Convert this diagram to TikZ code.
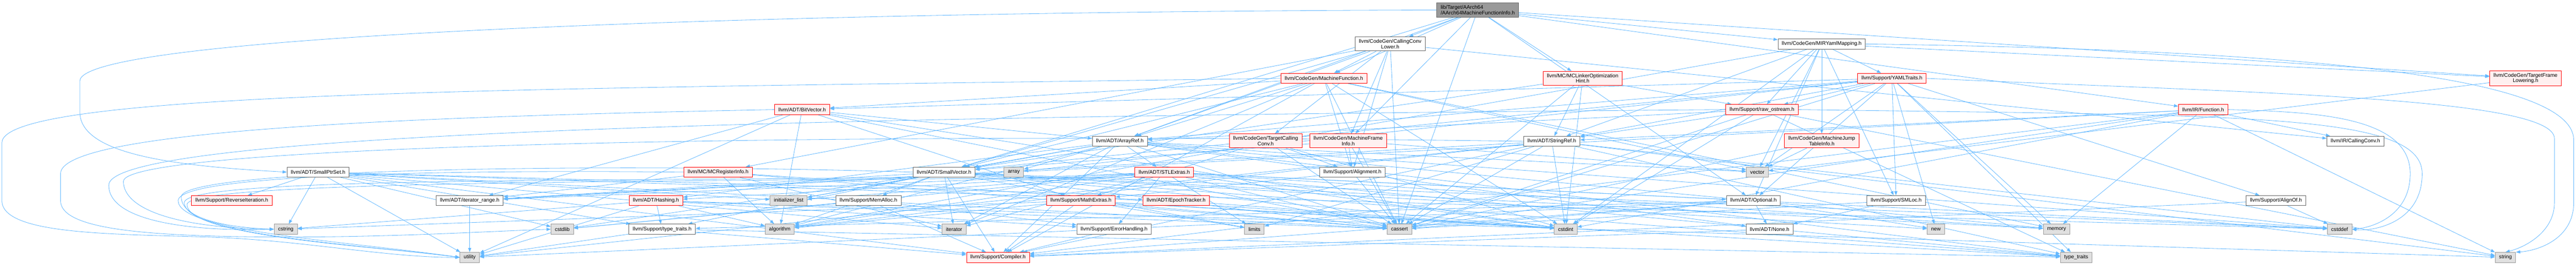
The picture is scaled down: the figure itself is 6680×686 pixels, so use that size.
\documentclass[tikz,border=0pt]{standalone}
\usepackage{fontspec}
\setmainfont{Liberation Sans}
\usetikzlibrary{arrows.meta}
\definecolor{edgec}{HTML}{63B8FF}
\definecolor{redfill}{HTML}{FFF0F0}
\definecolor{extfill}{HTML}{E0E0E0}
\definecolor{gforty}{HTML}{666666}
\definecolor{gsixty}{HTML}{999999}
\pgfdeclarelayer{bg}
\pgfsetlayers{bg,main}
\begin{document}
\begin{tikzpicture}[x=1pt,y=-1pt,
  box/.style={draw,rectangle,font=\fontsize{13.5}{14.5}\selectfont,inner xsep=10pt,inner ysep=6pt,minimum height=26pt,line width=1.3pt,align=center},
  rednode/.style={box,draw=red,fill=redfill},
  plainnode/.style={box,draw=gforty,fill=white},
  extnode/.style={box,draw=gsixty,fill=extfill},
  rootnode/.style={box,draw=gforty,fill=gsixty,align=left},
  conn/.style={draw=edgec,line width=1.1pt,-{Triangle[length=11pt,width=8pt]}}
]
\useasboundingbox (0,0) rectangle (6680,686);
\node[rootnode] (root) at (3832,26) {lib/Target/AArch64\\/AArch64MachineFunctionInfo.h};
\node[plainnode] (ccl) at (3605,114) {llvm/CodeGen/CallingConv\\Lower.h};
\node[plainnode] (mir) at (4724,114) {llvm/CodeGen/MIRYamlMapping.h};
\node[rednode] (mf) at (3433,203) {llvm/CodeGen/MachineFunction.h};
\node[rednode] (mclo) at (4104,203) {llvm/MC/MCLinkerOptimization\\Hint.h};
\node[rednode] (yaml) at (4906,203) {llvm/Support/YAMLTraits.h};
\node[rednode] (tfl) at (6549,203) {llvm/CodeGen/TargetFrame\\Lowering.h};
\node[rednode] (bv) at (2080,284) {llvm/ADT/BitVector.h};
\node[rednode] (ros) at (4569,284) {llvm/Support/raw\_ostream.h};
\node[rednode] (fn) at (5713,284) {llvm/IR/Function.h};
\node[plainnode] (ar) at (2904,366) {llvm/ADT/ArrayRef.h};
\node[rednode] (tcc) at (3282,365) {llvm/CodeGen/TargetCalling\\Conv.h};
\node[rednode] (mfi) at (3496,365) {llvm/CodeGen/MachineFrame\\Info.h};
\node[plainnode] (sr) at (4024,366) {llvm/ADT/StringRef.h};
\node[rednode] (mjt) at (4724,365) {llvm/CodeGen/MachineJump\\TableInfo.h};
\node[plainnode] (cc) at (6108,366) {llvm/IR/CallingConv.h};
\node[plainnode] (sps) at (825,446) {llvm/ADT/SmallPtrSet.h};
\node[rednode] (mcri) at (1862,446) {llvm/MC/MCRegisterInfo.h};
\node[plainnode] (sv) at (2448,446) {llvm/ADT/SmallVector.h};
\node[extnode] (array) at (2629,446) {array};
\node[rednode] (stl) at (3019,446) {llvm/ADT/STLExtras.h};
\node[plainnode] (al) at (3507,446) {llvm/Support/Alignment.h};
\node[extnode] (vector) at (4557,446) {vector};
\node[rednode] (rev) at (601,520) {llvm/Support/ReverseIteration.h};
\node[plainnode] (itr) at (1218,520) {llvm/ADT/iterator\_range.h};
\node[rednode] (hash) at (1701,520) {llvm/ADT/Hashing.h};
\node[extnode] (il) at (2045,520) {initializer\_list};
\node[plainnode] (ma) at (2252,520) {llvm/Support/MemAlloc.h};
\node[rednode] (mx) at (2803,520) {llvm/Support/MathExtras.h};
\node[rednode] (et) at (3050,520) {llvm/ADT/EpochTracker.h};
\node[plainnode] (opt) at (4547,520) {llvm/ADT/Optional.h};
\node[plainnode] (sml) at (4917,520) {llvm/Support/SMLoc.h};
\node[plainnode] (ao) at (5902,520) {llvm/Support/AlignOf.h};
\node[extnode] (cstring) at (741,594) {cstring};
\node[extnode] (cstdlib) at (1458,594) {cstdlib};
\node[plainnode] (tt) at (1717,594) {llvm/Support/type\_traits.h};
\node[extnode] (algorithm) at (2022,594) {algorithm};
\node[extnode] (iterator) at (2474,594) {iterator};
\node[plainnode] (eh) at (2889,594) {llvm/Support/ErrorHandling.h};
\node[extnode] (limits) at (3253,594) {limits};
\node[extnode] (cassert) at (3629,594) {cassert};
\node[extnode] (cstdint) at (4060,594) {cstdint};
\node[plainnode] (none) at (4589,594) {llvm/ADT/None.h};
\node[extnode] (new) at (5020,594) {new};
\node[extnode] (memory) at (5333,594) {memory};
\node[extnode] (cstddef) at (6067,594) {cstddef};
\node[extnode] (utility) at (1218,667) {utility};
\node[rednode] (comp) at (2588,667) {llvm/Support/Compiler.h};
\node[extnode] (typetraits) at (5384,667) {type\_traits};
\node[extnode] (string) at (6497,667) {string};
\begin{pgfonlayer}{bg}
\foreach \s/\t in {root/ar, root/opt, root/sv, root/ccl, root/mir, root/mfi, root/mf, root/fn, root/mclo, root/tfl, root/cassert,
  ccl/ar, ccl/sv, ccl/mfi, ccl/mf, ccl/tcc, ccl/cc, ccl/mcri, ccl/al, ccl/cassert,
  mir/sr, mir/mjt, mir/tfl, mir/sml, mir/yaml, mir/ros, mir/algorithm, mir/cstdint, mir/opt, mir/vector,
  mf/ar, mf/bv, mf/sv, mf/iterator, mf/comp, mf/cassert, mf/cstdint, mf/memory, mf/vector, mf/al,
  mclo/sv, mclo/sr, mclo/ros, mclo/cassert, mclo/cstdint,
  yaml/ar, yaml/bv, yaml/opt, yaml/sv, yaml/sr, yaml/ao, yaml/sml, yaml/ros, yaml/array, yaml/cassert, yaml/memory, yaml/new, yaml/vector, yaml/typetraits,
  tfl/vector,
  bv/ar, bv/itr, bv/mx, bv/algorithm, bv/cassert, bv/cstdint, bv/utility,
  ros/ar, ros/sr, ros/cassert, ros/cstdint, ros/string, ros/typetraits,
  fn/sr, fn/itr, fn/cc, fn/comp, fn/cassert, fn/cstdint, fn/memory, fn/string,
  ar/hash, ar/none, ar/sv, ar/stl, ar/comp, ar/algorithm, ar/array, ar/cassert, ar/cstddef, ar/il, ar/iterator, ar/memory, ar/typetraits, ar/vector,
  tcc/al, tcc/mx, tcc/cassert, tcc/cstdint,
  sr/itr, sr/comp, sr/algorithm, sr/cassert, sr/cstddef, sr/limits, sr/string, sr/typetraits, sr/utility, sr/cstdint,
  mjt/vector, mjt/cassert,
  mfi/sv, mfi/al, mfi/cassert, mfi/vector,
  sps/et, sps/rev, sps/comp, sps/tt, sps/cassert, sps/cstddef, sps/cstdlib, sps/cstring, sps/il, sps/iterator, sps/utility,
  mcri/itr, mcri/algorithm, mcri/iterator, mcri/cassert, mcri/cstdint,
  sv/itr, sv/comp, sv/ma, sv/tt, sv/algorithm, sv/cassert, sv/cstddef, sv/cstdint, sv/cstdlib, sv/il, sv/iterator, sv/limits, sv/memory, sv/new, sv/typetraits,
  stl/opt, stl/itr, stl/eh, stl/hash, stl/algorithm, stl/cassert, stl/cstddef, stl/cstdint, stl/cstdlib, stl/il, stl/iterator, stl/limits, stl/memory, stl/typetraits,
  al/mx, al/cassert,
  itr/utility,
  hash/eh, hash/tt, hash/algorithm, hash/cassert, hash/cstring, hash/string, hash/utility,
  ma/comp, ma/eh, ma/cstdlib,
  mx/comp, mx/algorithm, mx/cassert, mx/cstdint, mx/cstring, mx/limits, mx/typetraits,
  et/cstdint,
  opt/none, opt/comp, opt/tt, opt/cassert, opt/new, opt/utility,
  sml/none, sml/cassert,
  ao/cstddef, ao/comp,
  tt/comp, tt/typetraits, tt/utility,
  eh/comp,
  none/comp}
  \draw[conn] (\s) -- (\t);
% edges routed around the left side
\draw[conn] (root.west) .. controls (2000,30) and (207,90) .. (207,210) -- (207,290) .. controls (207,400) and (450,430) .. (sps.west);
\draw[conn] (mf.west) .. controls (1500,230) and (5,230) .. (5,370) -- (5,520) .. controls (5,610) and (300,606) .. (560,615) .. controls (800,625) and (1000,667) .. (utility.west);
\draw[conn] (bv.west) .. controls (1200,300) and (157,330) .. (157,450) -- (157,520) .. controls (157,590) and (350,612) .. (700,614) .. controls (1000,616) and (1250,600) .. (cstdlib.west);
\draw[conn] (sr.west) .. controls (2000,340) and (320,380) .. (320,470) .. controls (320,540) and (450,590) .. (cstring.west);
\draw[conn] (ros.west) .. controls (2500,300) and (282,330) .. (282,480) .. controls (282,575) and (500,600) .. (cstring.west);
\draw[conn] (sv.west) .. controls (1500,420) and (470,440) .. (470,510) .. controls (470,570) and (600,590) .. (cstring.west);
\draw[conn] (mcri.west) .. controls (1200,440) and (462,450) .. (462,520) .. controls (462,600) and (900,625) .. (utility.west);
\draw[conn] (sv.south west) .. controls (1500,470) and (478,460) .. (478,525) .. controls (478,610) and (950,635) .. (utility.west);
\draw[conn] (stl.south west) .. controls (1600,470) and (485,470) .. (485,530) .. controls (485,615) and (1000,640) .. (utility.west);
% edges routed around the right side
\draw[conn] (mir.east) .. controls (6000,130) and (6674,200) .. (6674,363) -- (6674,525) .. controls (6674,620) and (6580,650) .. (string.north east);
\draw[conn] (yaml.east) .. controls (5800,240) and (6624,250) .. (6624,359) -- (6624,525) .. controls (6624,600) and (6550,640) .. (string.north);
\draw[conn] (fn.east) .. controls (6000,290) and (6250,300) .. (6250,450) .. controls (6250,560) and (6150,590) .. (cstddef.east);
\draw[conn] (ros.east) .. controls (5800,300) and (6281,290) .. (6281,450) .. controls (6281,580) and (6150,600) .. (cstddef.east);
\end{pgfonlayer}
\end{tikzpicture}
\end{document}
